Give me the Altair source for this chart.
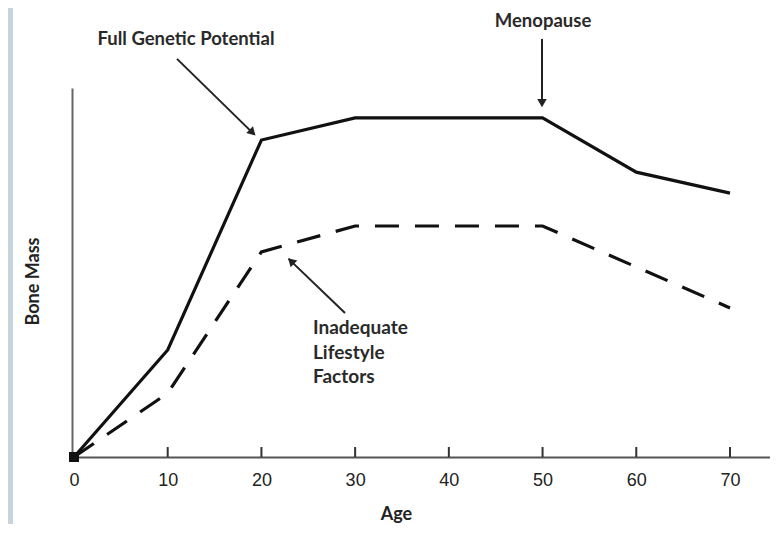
import altair as alt
import pandas as pd

# ---- data ----
ages = [0, 10, 20, 30, 40, 50, 60, 70]
full_potential = [0, 29.0, 85.9, 91.9, 91.9, 91.9, 77.2, 71.5]
inadequate = [0, 17.3, 55.6, 62.6, 62.6, 62.6, 51.5, 40.4]
tick_ages = [10, 20, 30, 40, 50, 60, 70]

# annotations (data units)
label_text = ["Full Genetic Potential", "Menopause"]
label_x = [11.95, 50.05]
label_y = [113.3, 118.2]

inad_lines = ["Inadequate", "Lifestyle", "Factors"]
inad_x = [25.5, 25.5, 25.5]
inad_y = [35.0, 28.2, 21.7]

arrow_x = [10.99, 49.94, 28.92]
arrow_y = [107.9, 113.3, 39.0]
arrow_x2 = [19.2, 49.94, 22.9]
arrow_y2 = [87.5, 95.5, 53.7]
head_x = [19.05, 49.94, 23.16]
head_y = [87.94, 95.9, 53.1]
head_angle = [135, 180, 315]

XDOM = [-0.213, 74.27]
YDOM = [0, 100]

lines = pd.DataFrame({
    "age": ages * 2,
    "mass": full_potential + inadequate,
    "series": ["Full"] * len(ages) + ["Inadequate"] * len(ages),
})
full_df = lines[lines.series == "Full"]
inad_df = lines[lines.series == "Inadequate"]

xs = alt.Scale(domain=XDOM, nice=False, zero=False)
ys = alt.Scale(domain=YDOM, nice=False, zero=False)

xaxis = alt.Axis(values=ages, format="d", ticks=False, grid=False, domainColor="#555",
                 domainWidth=2, labelFont="Liberation Sans", labelFontSize=18,
                 labelColor="#222", labelPadding=14, labelFlush=False, labelOverlap=False,
                 title="Age", titleFont="Lato", titleFontWeight="bold", titleFontSize=18,
                 titleColor="#222", titleX=324, titleY=57, titleBaseline="middle",
                 titleAnchor="start", titleAlign="center")
yaxis = alt.Axis(ticks=False, labels=False, grid=False, domainColor="#666", domainWidth=2,
                 title="Bone Mass", titleFont="Lato", titleFontWeight="bold",
                 titleFontSize=18, titleColor="#222", titlePadding=30, titleY=193,
                 titleAlign="center")

solid = alt.Chart(full_df).mark_line(color="#111", strokeWidth=3.2).encode(
    x=alt.X("age:Q", scale=xs, axis=xaxis),
    y=alt.Y("mass:Q", scale=ys, axis=yaxis),
)
dashed = alt.Chart(inad_df).mark_line(color="#111", strokeWidth=3.2, strokeDash=[24, 16]).encode(
    x=alt.X("age:Q", scale=xs), y=alt.Y("mass:Q", scale=ys)
)

ticks_df = pd.DataFrame({"age": tick_ages, "lo": [0.0] * len(tick_ages), "hi": [2.7] * len(tick_ages)})
ticks = alt.Chart(ticks_df).mark_rule(color="#333", strokeWidth=2).encode(
    x=alt.X("age:Q", scale=xs), y=alt.Y("lo:Q", scale=ys), y2="hi:Q"
)

origin = alt.Chart(pd.DataFrame({"age": [0], "mass": [0]})).mark_square(
    color="#111", size=100, opacity=1).encode(x=alt.X("age:Q", scale=xs), y=alt.Y("mass:Q", scale=ys))

arrows_df = pd.DataFrame({"x": arrow_x, "y": arrow_y, "x2": arrow_x2, "y2": arrow_y2})
arrows = alt.Chart(arrows_df).mark_rule(color="#222", strokeWidth=2).encode(
    x=alt.X("x:Q", scale=xs), y=alt.Y("y:Q", scale=ys), x2="x2:Q", y2="y2:Q"
)
heads_df = pd.DataFrame({"x": head_x, "y": head_y, "a": head_angle})
heads = alt.Chart(heads_df).mark_point(shape="triangle-up", filled=True, color="#222",
                                       size=90, opacity=1).encode(
    x=alt.X("x:Q", scale=xs), y=alt.Y("y:Q", scale=ys),
    angle=alt.Angle("a:Q", scale=None),
)

labels_df = pd.DataFrame({"x": label_x, "y": label_y, "t": label_text})
labels = alt.Chart(labels_df).mark_text(font="Lato", fontWeight="bold", fontSize=18.5,
                                        color="#2a2a2a", align="center", baseline="middle").encode(
    x=alt.X("x:Q", scale=xs), y=alt.Y("y:Q", scale=ys), text="t:N"
)
inad_df2 = pd.DataFrame({"x": inad_x, "y": inad_y, "t": inad_lines})
inad_labels = alt.Chart(inad_df2).mark_text(font="Lato", fontWeight="bold", fontSize=19,
                                            color="#2a2a2a", align="left", baseline="middle").encode(
    x=alt.X("x:Q", scale=xs), y=alt.Y("y:Q", scale=ys), text="t:N"
)

strip = alt.Chart(pd.DataFrame({"k": [0]})).mark_rect(color="#c8d4dc").encode(
    x=alt.value(-64), x2=alt.value(-59), y=alt.value(-80), y2=alt.value(440)
)

chart = alt.layer(strip, solid, dashed, ticks, origin, arrows, heads, labels, inad_labels).properties(
    width=698, height=369, autosize="none",
    padding={"left": 64, "top": 80, "right": 0, "bottom": 67},
).configure_view(stroke=None)

chart.save("out.html", embed_options={"renderer": "svg", "actions": False})
